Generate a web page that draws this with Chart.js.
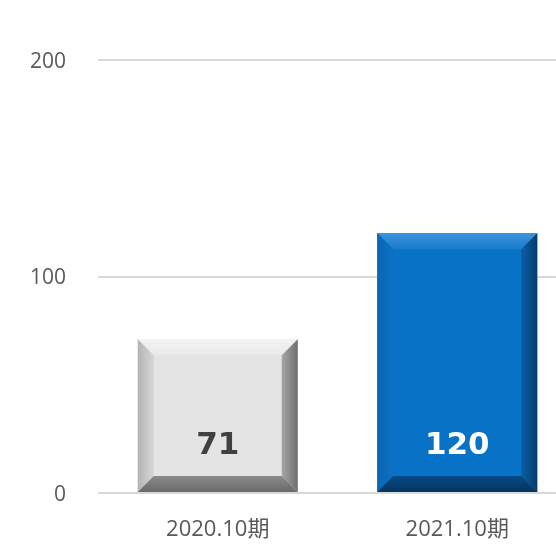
<!DOCTYPE html>
<html>
<head>
<meta charset="utf-8">
<script src="https://cdn.jsdelivr.net/npm/chart.js@4"></script>
<style>
  html, body { margin: 0; padding: 0; background: #fff; overflow: hidden; }
  #wrap { width: 580px; height: 553px; }
</style>
</head>
<body>
<div id="wrap"><canvas id="chart-0"></canvas></div>
<script>
const periods = ['2020.10期', '2021.10期']
const values = [71, 120]
const yTicks = [0, 100, 200]

// face, top, left, right, bottom bevel colours per bar
const faceColors = ['#e4e4e4', '#0872c6']
const bevelColors = [
  { top: ['#f4f4f4', '#e9e9e9'], left: ['#b4b4b4', '#d6d6d6'], right: ['#a6a6a6', '#6e6e6e'], bottom: ['#8a8a8a', '#6a6a6a'] },
  { top: ['#3b93dc', '#1a7ccd'], left: ['#0a66b4', '#0c70c2'], right: ['#0b5ea6', '#063c6c'], bottom: ['#064a85', '#04355f'] }
]
const labelColors = ['#404040', '#ffffff']

const bevel = 16
const axisFont = '"Open Sans", "Noto Sans CJK JP"'

const bevelPlugin = {
  id: 'bevel',
  afterDatasetsDraw(chart) {
    const ctx = chart.ctx
    const meta = chart.getDatasetMeta(0)
    meta.data.forEach((bar, i) => {
      const w = bar.width
      const l = bar.x - w / 2, r = bar.x + w / 2
      const t = bar.y, b = bar.base
      const c = bevelColors[i]
      ctx.save()

      let g = ctx.createLinearGradient(0, t, 0, t + bevel)
      g.addColorStop(0, c.top[0]); g.addColorStop(1, c.top[1])
      ctx.fillStyle = g
      ctx.beginPath()
      ctx.moveTo(l, t); ctx.lineTo(r, t); ctx.lineTo(r - bevel, t + bevel); ctx.lineTo(l + bevel, t + bevel)
      ctx.fill()

      g = ctx.createLinearGradient(l, 0, l + bevel, 0)
      g.addColorStop(0, c.left[0]); g.addColorStop(1, c.left[1])
      ctx.fillStyle = g
      ctx.beginPath()
      ctx.moveTo(l, t); ctx.lineTo(l + bevel, t + bevel); ctx.lineTo(l + bevel, b - bevel); ctx.lineTo(l, b)
      ctx.fill()

      g = ctx.createLinearGradient(r - bevel, 0, r, 0)
      g.addColorStop(0, c.right[0]); g.addColorStop(1, c.right[1])
      ctx.fillStyle = g
      ctx.beginPath()
      ctx.moveTo(r, t); ctx.lineTo(r, b); ctx.lineTo(r - bevel, b - bevel); ctx.lineTo(r - bevel, t + bevel)
      ctx.fill()

      g = ctx.createLinearGradient(0, b - bevel, 0, b)
      g.addColorStop(0, c.bottom[0]); g.addColorStop(1, c.bottom[1])
      ctx.fillStyle = g
      ctx.beginPath()
      ctx.moveTo(l, b); ctx.lineTo(l + bevel, b - bevel); ctx.lineTo(r - bevel, b - bevel); ctx.lineTo(r, b)
      ctx.fill()

      // value label near the bottom of the bar
      ctx.fillStyle = labelColors[i]
      ctx.font = 'bold 31px "DejaVu Sans"'
      ctx.textAlign = 'center'
      ctx.textBaseline = 'middle'
      ctx.fillText(String(values[i]), bar.x, b - 46)
      ctx.restore()
    })
  }
}

const config = {
  type: 'bar',
  data: {
    labels: periods,
    datasets: [{
      data: values,
      backgroundColor: faceColors,
      borderWidth: 0,
      barPercentage: 1,
      categoryPercentage: 0.668
    }]
  },
  options: {
    responsive: true,
    maintainAspectRatio: false,
    animation: false,
    layout: { padding: { top: 60, right: 3, left: 0, bottom: 0 } },
    plugins: {
      legend: { display: false },
      tooltip: { enabled: false }
    },
    scales: {
      x: {
        grid: { display: false, drawTicks: false },
        border: { display: false },
        ticks: {
          color: '#595959',
          padding: 24,
          font: { family: axisFont, size: 22 }
        },
        afterFit(scale) { scale.height = 60 }
      },
      y: {
        min: 0,
        max: 200,
        afterBuildTicks(scale) { scale.ticks = yTicks.map(v => ({ value: v })) },
        grid: { color: '#d9d9d9', lineWidth: 2, drawTicks: false },
        border: { display: false },
        ticks: {
          color: '#595959',
          padding: 32,
          labelOffset: 2,
          font: { family: axisFont, size: 21 }
        },
        afterFit(scale) { scale.width = 98 }
      }
    }
  },
  plugins: [bevelPlugin]
}

new Chart(document.getElementById('chart-0'), config)
</script>
</body>
</html>
